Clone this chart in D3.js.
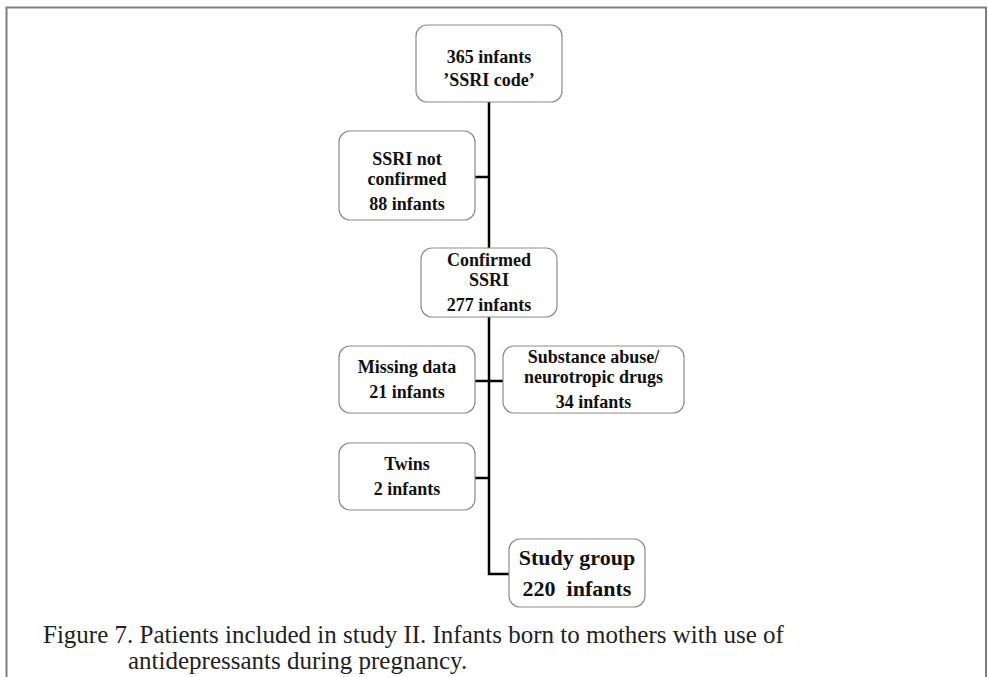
<!DOCTYPE html>
<html>
<head>
<meta charset="utf-8">
<script src="https://cdn.jsdelivr.net/npm/d3@7/dist/d3.min.js"></script>
<style>
  body { margin: 0; background: #fff; }
  svg { display: block; }
</style>
</head>
<body>
<div id="chart"></div>
<script>
// flow chart data: one entry per box
var nodeIds    = ["all", "notConfirmed", "confirmed", "missing", "substance", "twins", "study"];
var nodeNames  = ["’SSRI code’", "SSRI not\nconfirmed", "Confirmed\nSSRI", "Missing data",
                  "Substance abuse/\nneurotropic drugs", "Twins", "Study group"];
var nodeCounts = [365, 88, 277, 21, 34, 2, 220];
var nodeKinds  = ["source", "excluded", "included", "excluded", "excluded", "excluded", "final"];
var nodeStages = [0, 1, 2, 3, 3, 4, 5];
var nodeSides  = ["center", "left", "center", "left", "right", "left", "final"];
var captionLines = ["Figure 7. Patients included in study II. Infants born to mothers with use of",
                    "antidepressants during pregnancy."];

var width = 988, height = 677;
var serif = "'Times New Roman', 'Liberation Serif', Times, serif";

// layout (kept apart from the data)
var rowY = d3.scaleOrdinal().domain([0, 1, 2, 3, 4, 5])
    .range([63.5, 175.5, 282.5, 379.5, 476.5, 573]);
var colX = d3.scaleOrdinal().domain(["center", "left", "right", "final"])
    .range([489, 407, 593.5, 577]);
var boxSize = {
    all: [146, 77], notConfirmed: [136, 89], confirmed: [136, 69], missing: [136, 67],
    substance: [181, 67], twins: [136, 67], study: [136, 68]
};
var textShift = { all: 5, notConfirmed: 6 };

var nodes = nodeIds.map(function (id, i) {
    var s = boxSize[id];
    return {
        id: id, name: nodeNames[i], count: nodeCounts[i], kind: nodeKinds[i],
        x: colX(nodeSides[i]), y: rowY(nodeStages[i]), w: s[0], h: s[1]
    };
});
var byId = {};
nodes.forEach(function (n) { byId[n.id] = n; });

var svg = d3.select("#chart").append("svg")
    .attr("width", width)
    .attr("height", height);

// page frame
svg.append("path")
    .attr("d", "M6.5," + height + " L6.5,7.5 L986,7.5 L986," + height)
    .attr("fill", "none")
    .attr("stroke", "#7d7d7d")
    .attr("stroke-width", 2);

// connectors
var trunkX = colX("center");
var firstBox = byId.all, lastBox = byId.study;
var links = svg.append("g")
    .attr("fill", "none")
    .attr("stroke", "#000")
    .attr("stroke-width", 2.5);
links.append("path")
    .attr("d", "M" + trunkX + "," + (firstBox.y + firstBox.h / 2) +
               " L" + trunkX + "," + (lastBox.y + 1) +
               " L" + (lastBox.x - lastBox.w / 2) + "," + (lastBox.y + 1));
nodes.filter(function (n) { return n.kind == "excluded"; }).forEach(function (n) {
    var edge = n.x < trunkX ? n.x + n.w / 2 : n.x - n.w / 2;
    links.append("line")
        .attr("x1", edge).attr("x2", trunkX)
        .attr("y1", n.y + 1.5).attr("y2", n.y + 1.5);
});

// boxes
var box = svg.selectAll("g.node").data(nodes).enter().append("g")
    .attr("class", "node");
box.append("rect")
    .attr("x", function (d) { return d.x - d.w / 2; })
    .attr("y", function (d) { return d.y - d.h / 2; })
    .attr("width", function (d) { return d.w; })
    .attr("height", function (d) { return d.h; })
    .attr("rx", 11)
    .attr("fill", "#fff")
    .attr("stroke", "#8c8c8c")
    .attr("stroke-width", 1.2);

box.each(function (d) {
    var g = d3.select(this);
    var fs = d.kind == "final" ? 22 : 18;
    var countText = d.count + (d.kind == "final" ? "  infants" : " infants");
    var lines = [], pos = [];
    if (d.kind == "source") {
        lines = [countText, d.name];
        pos = [0, 23];
    } else if (d.kind == "final") {
        lines = [d.name, countText];
        pos = [0, 31];
    } else {
        var parts = d.name.split("\n");
        parts.forEach(function (p, i) { lines.push(p); pos.push(i * 20); });
        lines.push(countText);
        pos.push((parts.length - 1) * 20 + 25.5);
    }
    var mid = (pos[0] + pos[pos.length - 1]) / 2;
    var shift = textShift[d.id] || 0;
    lines.forEach(function (t, i) {
        g.append("text")
            .attr("x", d.x)
            .attr("y", d.y + pos[i] - mid + fs * 0.34 + shift)
            .attr("text-anchor", "middle")
            .style("white-space", "pre")
            .attr("font-family", serif)
            .attr("font-weight", "bold")
            .attr("font-size", fs)
            .attr("fill", "#111")
            .text(t);
    });
});

// caption
captionLines.forEach(function (t, i) {
    svg.append("text")
        .attr("x", i == 0 ? 43 : 128)
        .attr("y", 643 + i * 26)
        .attr("font-family", serif)
        .attr("font-size", 25)
        .attr("fill", "#222")
        .text(t);
});
</script>
</body>
</html>
